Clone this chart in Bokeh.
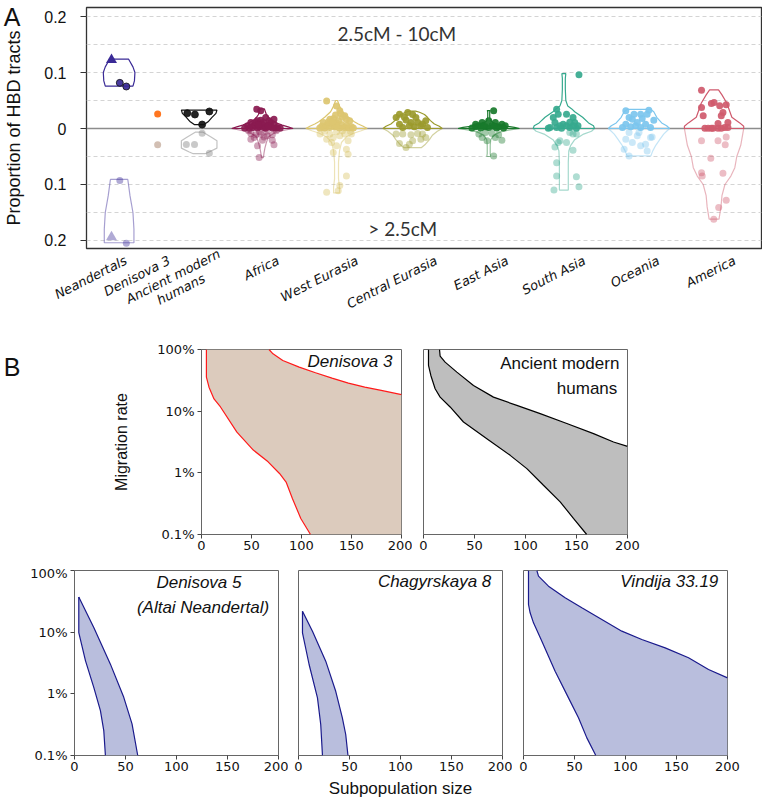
import math
from bokeh.plotting import figure
from bokeh.models import Range1d, FixedTicker, Label, CustomJSTickFormatter, Span, LinearAxis
from bokeh.layouts import column, row
from bokeh.embed import file_html
from bokeh.resources import INLINE

# ---------------- Panel A data ----------------
groups = ["Neandertals", "Denisova 3", "Ancient modern humans", "Africa", "West Eurasia",
          "Central Eurasia", "East Asia", "South Asia", "Oceania", "America"]
tick_text = ["Neandertals", "Denisova 3", "Ancient modern\nhumans\u00a0\u00a0\u00a0\u00a0\u00a0\u00a0", "Africa",
             "West Eurasia", "Central Eurasia", "East Asia", "South Asia", "Oceania", "America"]
group_x = [33, 72, 114, 178, 253, 330, 407, 483, 559, 635]
label_x = [40, 84, 138, 194, 274, 354, 426, 504, 579, 656]
color_long = ["#3a2a96", "#ff6a0d", "#111111", "#8a1a50", "#dcc670", "#9b9a2c",
              "#18792b", "#36a98e", "#7cc6ee", "#cf5a6d"]
color_short = ["#3a2a96", "#8f5f40", "#777777", "#8a1a50", "#d8c060", "#9b9a2c",
               "#18792b", "#36a98e", "#7cc6ee", "#cf5a6d"]

# (jitter, proportion of HBD tracts); long = 2.5cM-10cM (upward), short = >2.5cM (downward)
nea_tri_long = [(-7.7, 0.1226)]
nea_tri_short = [(-7.7, 0.194)]
long_pts = {
    "Neandertals": [(0.7, 0.0815), (7.3, 0.075)],
    "Denisova 3": [(0, 0.026)],
    "Ancient modern humans": [(-12, 0.0274), (-4.3, 0.025), (3, 0.0071), (10.3, 0.0304)],
    "Africa": [(-5.7, .0345), (-1.7, .0315), (11.7, .0167), (3.3, .0196), (-5, .0137), (-11.7, .0107),
               (8.3, .0107), (0, .0077), (-8.3, .0057), (-15, .0048), (5, .0048), (11.7, .0077),
               (-3.3, .003), (1.7, .0018), (-10, .0018), (8.3, .003), (15, .0018), (-6.7, .0107),
               (6.7, .0137), (-1.7, .0149), (3.3, .0003), (-13.3, .0003), (13.3, .0003), (-5, .001),
               (10, .001), (-18, .001), (18, .001), (1, .011), (-4, .007), (6, .004)],
    "West Eurasia": [(-10, .049), (0, .040), (3.3, .0315), (8.3, .0226), (-6.7, .0167), (-13.3, .0107),
                     (13.3, .0137), (-15, .004), (-10, .006), (-5, .008), (0, .010), (5, .007), (10, .005),
                     (15, .003), (-12, .001), (-7, .002), (-2, .003), (3, .001), (8, .002), (12, .001),
                     (17, .001), (-17, .001), (2, .014), (-3, .018), (6, .020), (-8, .012), (10, .016),
                     (-1, .024), (4, .027), (0, .005), (-4, .012)],
    "Central Eurasia": [(-13.3, .0256), (-5, .0286), (3.3, .0196), (13.3, .0137), (-1.7, .0107),
                        (-13.3, .0077), (8.3, .0048), (-10, .0018), (15, .0018), (1.7, .003), (-6.7, .015),
                        (-16.7, .0196), (5, .011), (10, .008), (-3.3, .005), (-8.3, .020), (0, .025)],
    "East Asia": [(5, .0315), (-13.3, .0077), (-6.7, .0107), (0, .0137), (6.7, .0107), (13.3, .0077),
                  (-10, .0048), (-3.3, .003), (3.3, .0048), (10, .003), (16.7, .0048), (-13.3, .003),
                  (-17, .001), (-8, .001), (0, .002), (8, .001), (15, .001), (-5, .006), (5, .004)],
    "South Asia": [(15.3, .0958), (-7.3, .0345), (-5.7, .0256), (2.7, .0256), (9.3, .0196), (-10.7, .0196),
                   (-9, .0107), (-0.7, .0077), (11, .0107), (14.3, .0048), (-15.7, .0005), (-14, .002),
                   (-7.3, .002), (-2.3, .0005), (6, .002), (12.7, .0005), (9.3, .005), (2.7, .005),
                   (-4, .005), (6, .011)],
    "Oceania": [(-13.3, .0315), (10, .0327), (1.7, .0256), (-6.7, .0167), (15, .0149), (-1.7, .0107),
                (-13.3, .0077), (6.7, .0077), (11.7, .0018), (-16.7, .0018), (-8.3, .003), (-3.3, .0048),
                (-10, .0196), (3.3, .018), (8.3, .0256), (-5, .0256), (1.7, .002)],
    "America": [(-12.7, .0685), (-2.7, .0446), (0, .0464), (5.7, .0405), (12.3, .0423), (9, .0286),
                (-12.7, .0375), (-11, .0226), (7.3, .0226), (4, .0089), (14, .0107), (-9.3, .0005),
                (-2.7, .0005), (4, .0005), (10.7, .002), (-1, .0005), (7.3, .0005), (14, .002), (-6, .0005)],
}
short_pts = {
    "Neandertals": [(0.7, 0.093), (7.3, 0.205)],
    "Denisova 3": [(0, 0.029)],
    "Ancient modern humans": [(-13, 0.0286), (-4.7, 0.0286), (3, 0.0083), (10.3, 0.044)],
    "Africa": [(-11.7, .0089), (-6.7, .0113), (-1.7, .0101), (5, .0131), (10, .0113), (-11.7, .019),
               (0, .0208), (10, .0208), (-5, .031), (11.7, .029), (-3.3, .052), (-8.3, .016), (1.7, .015),
               (-14, .004), (4, .005), (14, .004), (-3, .006)],
    "West Eurasia": [(-10, .019), (-3.3, .016), (3.3, .013), (11.7, .022), (8.3, .010), (-6.7, .010),
                     (0, .031), (10, .037), (-3.3, .043), (11.7, .046), (10, .085), (3.3, .102),
                     (-10, .114), (1.7, .111), (-16.7, .010), (15, .010), (-12, .005), (0, .006),
                     (6, .004), (14, .005), (-5, .025)],
    "Central Eurasia": [(-13.3, .027), (-6.7, .034), (0, .022), (8.3, .019), (-10, .010), (-1.7, .011),
                        (5, .009), (10, .010), (-16.7, .010), (13.3, .016), (-3.3, .028)],
    "East Asia": [(-10, .010), (-3.3, .007), (3.3, .009), (10, .011), (-6.7, .016), (6.7, .016),
                  (13.3, .021), (-1.7, .022), (5, .049)],
    "South Asia": [(-5.7, .025), (-9, .033), (2.7, .025), (9.3, .039), (-7.3, .061), (-7.3, .085),
                   (12.7, .086), (15.3, .104), (-10, .110), (6, .007), (9.3, .010), (12.7, .010), (-4, .022)],
    "Oceania": [(-13.3, .019), (-6.7, .025), (1.7, .031), (8.3, .040), (-10, .049), (6.7, .028),
                (13.3, .015), (-1.7, .013), (-15, .037), (0, .007), (11.7, .016), (-10, .007)],
    "America": [(-12.7, .022), (4, .022), (12.3, .015), (11.3, .029), (-3.3, .053), (-12.7, .079),
                (-12, .085), (9, .080), (12.3, .128), (4.7, .141), (-0.3, .162)],
}
# violin outlines: (proportion, half-width)
viol_long = {
    "Neandertals": [(0.0756, 14), (0.085, 15.5), (0.1, 16), (0.11, 14), (0.124, 9.5)],
    "Ancient modern humans": [(0.007, 5), (0.012, 9), (0.02, 13), (0.027, 17), (0.033, 18)],
    "Africa": [(0, 31), (0.003, 26), (0.006, 20), (0.01, 14), (0.015, 9), (0.02, 6), (0.025, 4), (0.03, 3), (0.035, 2)],
    "West Eurasia": [(0, 31), (0.004, 27), (0.008, 22), (0.012, 18), (0.02, 12), (0.03, 6), (0.04, 3), (0.05, 1)],
    "Central Eurasia": [(0, 30), (0.004, 27), (0.008, 22), (0.014, 18), (0.02, 15), (0.025, 12), (0.029, 7), (0.031, 3)],
    "East Asia": [(0, 31), (0.002, 26), (0.004, 18), (0.007, 10), (0.01, 5), (0.014, 2), (0.02, 1), (0.03, 1), (0.032, 1.5)],
    "South Asia": [(0, 31), (0.005, 30), (0.01, 25), (0.02, 19), (0.03, 11), (0.035, 8), (0.04, 4), (0.05, 2),
                   (0.07, 1.5), (0.09, 1.5), (0.098, 2)],
    "Oceania": [(0, 31), (0.005, 28), (0.01, 23), (0.02, 18), (0.03, 15), (0.034, 12)],
    "America": [(0, 30), (0.004, 30), (0.01, 26), (0.02, 18), (0.03, 16), (0.045, 13), (0.06, 8), (0.069, 4.5)],
}
viol_short = {
    "Neandertals": [(0.091, 8.8), (0.12, 11), (0.15, 14), (0.18, 15), (0.204, 15)],
    "Ancient modern humans": [(0.0065, 4), (0.015, 12), (0.022, 18), (0.035, 18), (0.042, 10), (0.045, 6)],
    "Africa": [(0, 31), (0.004, 20), (0.008, 12), (0.015, 6), (0.025, 4), (0.035, 2.5), (0.045, 1.5), (0.052, 1)],
    "West Eurasia": [(0, 31), (0.004, 25), (0.008, 18), (0.015, 10), (0.025, 5), (0.04, 3), (0.06, 2), (0.09, 2),
                     (0.105, 3), (0.115, 3)],
    "Central Eurasia": [(0, 30), (0.005, 25), (0.012, 20), (0.02, 17), (0.028, 13), (0.034, 9)],
    "East Asia": [(0, 31), (0.003, 20), (0.006, 12), (0.01, 7), (0.015, 4), (0.02, 2), (0.03, 1.5), (0.045, 1.5), (0.05, 2)],
    "South Asia": [(0, 31), (0.005, 28), (0.01, 20), (0.02, 11), (0.03, 7), (0.04, 5), (0.06, 4.5), (0.09, 4.5), (0.11, 4.5)],
    "Oceania": [(0, 31), (0.005, 28), (0.01, 25), (0.02, 21), (0.03, 17), (0.04, 14), (0.049, 12)],
    "America": [(0, 30), (0.01, 29), (0.03, 27), (0.05, 23), (0.07, 21), (0.085, 17), (0.1, 11), (0.12, 8),
                (0.14, 7), (0.162, 5)],
}
a_ticks = [-0.2, -0.1, 0, 0.1, 0.2]
a_grid = [-0.2, -0.15, -0.1, -0.05, 0.05, 0.1, 0.15, 0.2]

# ---------------- Panel B data (subpopulation size, migration rate) ----------------
size_ticks = [0, 50, 100, 150, 200]
mig_ticks = [0.001, 0.01, 0.1, 1]
b_panels = {
    "Denisova 3": dict(
        left_n=[4.9, 4.9, 7.5, 12.5, 19, 35.4, 51.8, 66.6, 78, 84.6, 91, 99.3, 109],
        left_m=[1, 0.356, 0.245, 0.158, 0.117, 0.0457, 0.0234, 0.0151, 0.00977, 0.00708, 0.0038, 0.00182, 0.001],
        right_n=[67.5, 71.5, 81.3, 97.7, 114, 130.5, 146.9, 163.3, 179.7, 200],
        right_m=[1, 0.851, 0.664, 0.518, 0.419, 0.344, 0.285, 0.245, 0.217, 0.185],
        fill="#dccbbd", line="#ff1a1a"),
    "Ancient modern humans": dict(
        left_n=[4.9, 4.9, 7.2, 11.4, 16.3, 26.1, 39.2, 62.1, 85, 101.3, 117.6, 134, 147, 160],
        left_m=[1, 0.551, 0.379, 0.231, 0.169, 0.117, 0.0667, 0.0358, 0.0192, 0.0117, 0.0063, 0.00339, 0.00182, 0.001],
        right_n=[15.7, 16.3, 21.2, 32.7, 49, 68.6, 91.5, 114.4, 140.5, 166.7, 186.3, 200],
        right_m=[1, 0.78, 0.624, 0.43, 0.261, 0.169, 0.124, 0.0912, 0.0631, 0.0432, 0.0316, 0.0269],
        fill="#bebebe", line="#000000"),
    "Denisova 5": dict(
        left_n=[4.2, 4.2, 10.8, 18.9, 25.4, 28.7, 30.3],
        left_m=[0.371, 0.0984, 0.0343, 0.0127, 0.00533, 0.00254, 0.001],
        right_n=[4.2, 18.9, 35.2, 48.3, 56.4, 62],
        right_m=[0.371, 0.1186, 0.0303, 0.00877, 0.00325, 0.001],
        fill="#b9bedd", line="#1a1a8c"),
    "Chagyrskaya 8": dict(
        left_n=[3.9, 3.9, 10.4, 18.6, 21.8, 23.5],
        left_m=[0.219, 0.0977, 0.0299, 0.0086, 0.00318, 0.001],
        right_n=[3.9, 13.7, 26.7, 36.5, 43, 46.3, 48.5],
        right_m=[0.219, 0.1038, 0.0339, 0.011, 0.00408, 0.00219, 0.001],
        fill="#b9bedd", line="#1a1a8c"),
    "Vindija 33.19": dict(
        left_n=[4.9, 4.9, 6.5, 9.8, 18, 31, 44.1, 53.9, 62.1, 70.9],
        left_m=[1, 0.281, 0.206, 0.1416, 0.0714, 0.0233, 0.0086, 0.00408, 0.00193, 0.001],
        right_n=[13.1, 14.7, 24.5, 40.8, 57.2, 76.8, 96.4, 116, 138.9, 161.8, 181.4, 200],
        right_m=[1, 0.809, 0.557, 0.361, 0.248, 0.160, 0.1038, 0.076, 0.0557, 0.0384, 0.0248, 0.01816],
        fill="#b9bedd", line="#1a1a8c"),
}

SANS = "Liberation Sans"


def plain_axis(ax):
    ax.major_tick_in = 0
    ax.minor_tick_line_color = None
    ax.axis_line_color = None


# ================= Panel A =================
pA = figure(width=762, height=340, x_range=Range1d(0, 683), y_range=Range1d(-0.2143, 0.2161),
            output_backend="svg", toolbar_location=None,
            min_border_left=78, min_border_right=1, min_border_top=7, min_border_bottom=92)
pA.outline_line_color = "#333333"
pA.outline_line_width = 1.3
pA.xgrid.visible = False
pA.ygrid.ticker = FixedTicker(ticks=a_grid)
pA.ygrid.grid_line_dash = "4 3"
pA.ygrid.grid_line_color = "#d4d4d4"
pA.ygrid.grid_line_width = 1

ya = pA.yaxis[0]
plain_axis(ya)
ya.ticker = FixedTicker(ticks=a_ticks)
ya.formatter = CustomJSTickFormatter(code="return String(Math.abs(tick));")
ya.major_label_text_font = SANS
ya.major_label_text_font_size = "16px"
ya.major_label_text_color = "#111111"
ya.major_tick_out = 6
ya.major_tick_line_color = "#333333"
ya.major_label_standoff = 14

# outer left axis: carries the panel letter and the axis title
axA = LinearAxis(ticker=FixedTicker(ticks=[0.2]), formatter=CustomJSTickFormatter(code="return 'A';"))
plain_axis(axA)
axA.major_tick_out = 0
axA.major_tick_line_color = None
axA.major_label_text_font = SANS
axA.major_label_text_font_size = "25px"
axA.major_label_text_color = "#111111"
axA.major_label_standoff = 21
axA.axis_label = "Proportion of HBD tracts"
axA.axis_label_text_font = SANS
axA.axis_label_text_font_size = "18px"
axA.axis_label_text_font_style = "normal"
axA.axis_label_text_color = "#111111"
axA.axis_label_standoff = -23
pA.add_layout(axA, "left")

xa = pA.xaxis[0]
plain_axis(xa)
xa.ticker = FixedTicker(ticks=label_x)
xa.formatter = CustomJSTickFormatter(args=dict(tpos=label_x, names=tick_text),
                                     code="const i = tpos.indexOf(tick); return i < 0 ? '' : names[i];")
xa.major_tick_out = 0
xa.major_tick_line_color = None
xa.major_label_orientation = math.radians(27)
xa.major_label_standoff = 11
xa.major_label_text_font = "DejaVu Sans"
xa.major_label_text_font_style = "italic"
xa.major_label_text_font_size = "13px"
xa.major_label_text_line_height = 1.0
xa.major_label_text_color = "#111111"

pA.add_layout(Span(location=0, dimension="width", line_color="#8c8c8c", line_width=1.5, level="underlay"))

for i, g in enumerate(groups):
    c = group_x[i]
    if g in viol_long:
        prof = viol_long[g]
        xs = [c + w for v, w in prof] + [c - w for v, w in reversed(prof)]
        ys = [v for v, w in prof] + [v for v, w in reversed(prof)]
        pA.patch(xs, ys, fill_color=None, line_color=color_long[i], line_width=1.2)
    if g in viol_short:
        prof = viol_short[g]
        xs = [c + w for v, w in prof] + [c - w for v, w in reversed(prof)]
        ys = [-v for v, w in prof] + [-v for v, w in reversed(prof)]
        pA.patch(xs, ys, fill_color=None, line_color=color_short[i], line_alpha=0.45, line_width=1.2)

for i, g in enumerate(groups):
    c = group_x[i]
    pts = short_pts[g]
    pA.scatter([c + o for o, v in pts], [-v for o, v in pts], size=7, marker="circle",
               fill_color=color_short[i], fill_alpha=0.4, line_color=None)
    pts = long_pts[g]
    outline = "#111111" if g in ("Neandertals", "Ancient modern humans") else None
    pA.scatter([c + o for o, v in pts], [v for o, v in pts], size=7, marker="circle",
               fill_color=color_long[i], fill_alpha=0.92, line_color=outline, line_width=0.8)

pA.scatter([group_x[0] + o for o, v in nea_tri_long], [v for o, v in nea_tri_long], marker="triangle",
           size=11, fill_color=color_long[0], line_color=None)
pA.scatter([group_x[0] + o for o, v in nea_tri_short], [-v for o, v in nea_tri_short], marker="triangle",
           size=11, fill_color=color_short[0], fill_alpha=0.4, line_color=None)

pA.add_layout(Label(x=314, y=0.1696, text="2.5cM - 10cM", text_font="Lato", text_font_size="19px",
                    text_color="#333333", text_align="center", text_baseline="middle"))
pA.add_layout(Label(x=320, y=-0.1786, text="> 2.5cM", text_font="Lato", text_font_size="19px",
                    text_color="#333333", text_align="center", text_baseline="middle"))


# ================= Panel B =================
def b_panel(name, width, height, bl, br, bt, bb, show_y):
    p = figure(width=width, height=height, x_range=Range1d(0, 200), y_range=Range1d(0.001, 1),
               y_axis_type="log", y_axis_location=("left" if show_y else None),
               output_backend="svg", toolbar_location=None,
               min_border_left=bl, min_border_right=br, min_border_top=bt, min_border_bottom=bb)
    p.grid.visible = False
    p.outline_line_color = "#666666"
    p.outline_line_width = 1
    xb = p.xaxis[0]
    plain_axis(xb)
    xb.ticker = FixedTicker(ticks=size_ticks)
    xb.major_label_text_font = "DejaVu Sans"
    xb.major_label_text_font_size = "13px"
    xb.major_label_text_color = "#111111"
    xb.major_tick_out = 4
    xb.major_tick_line_color = "#444444"
    xb.major_label_standoff = 2
    if show_y:
        yy = p.yaxis[0]
        plain_axis(yy)
        yy.ticker = FixedTicker(ticks=mig_ticks)
        yy.formatter = CustomJSTickFormatter(code="return (Math.round(tick*1000)/10) + '%';")
        yy.major_label_text_font = "DejaVu Sans"
        yy.major_label_text_font_size = "13px"
        yy.major_label_text_color = "#111111"
        yy.major_tick_out = 4
        yy.major_tick_line_color = "#444444"
        yy.major_label_standoff = 3
    d = b_panels[name]
    px = list(d["left_n"])
    py = list(d["left_m"])
    if d["right_n"][-1] >= 200:
        px.append(200)
        py.append(0.001)
    px += d["right_n"][::-1]
    py += d["right_m"][::-1]
    p.patch(px, py, fill_color=d["fill"], line_color=None)
    p.line(d["left_n"], d["left_m"], line_color=d["line"], line_width=1.2)
    p.line(d["right_n"], d["right_m"], line_color=d["line"], line_width=1.2)
    return p


title_kw = dict(text_font=SANS, text_font_size="17px", text_color="#111111", text_baseline="middle")

pB1 = b_panel("Denisova 3", 412, 225, 197, 11, 9, 31, True)
yb = pB1.yaxis[0]
yb.axis_label = "Migration rate"
yb.axis_label_text_font = SANS
yb.axis_label_text_font_size = "16px"
yb.axis_label_text_font_style = "normal"
yb.axis_label_text_color = "#111111"
yb.axis_label_standoff = 24
# outer left axis carrying the panel letter (two-line label lifts the letter above the tick)
axB = LinearAxis(ticker=FixedTicker(ticks=[1]), formatter=CustomJSTickFormatter(code="return 'B\\n\\u00a0';"))
plain_axis(axB)
axB.major_tick_out = 0
axB.major_tick_line_color = None
axB.major_label_text_font = SANS
axB.major_label_text_font_size = "25px"
axB.major_label_text_line_height = 0.5
axB.major_label_text_color = "#111111"
axB.major_label_standoff = 90
pB1.add_layout(axB, "left")
pB1.add_layout(Label(x=191, y=0.638, text="Denisova 3", text_align="right", text_font_style="italic", **title_kw))

pB2 = b_panel("Ancient modern humans", 228, 225, 11, 13, 9, 31, False)
pB2.add_layout(Label(x=192, y=0.593, text="Ancient modern", text_align="right", **title_kw))
pB2.add_layout(Label(x=190, y=0.233, text="humans", text_align="right", **title_kw))

pB3 = b_panel("Denisova 5", 288, 236, 74, 10, 5, 46, True)
pB3.add_layout(Label(x=122, y=0.638, text="Denisova 5", text_align="center", text_font_style="italic", **title_kw))
pB3.add_layout(Label(x=126, y=0.251, text="(Altai Neandertal)", text_align="center", text_font_style="italic",
                     **title_kw))

pB4 = b_panel("Chagyrskaya 8", 224, 236, 10, 10, 5, 46, False)
xc = pB4.xaxis[0]
xc.axis_label = "Subpopulation size"
xc.axis_label_text_font = SANS
xc.axis_label_text_font_size = "17px"
xc.axis_label_text_font_style = "normal"
xc.axis_label_text_color = "#111111"
xc.axis_label_standoff = 5
pB4.add_layout(Label(x=189, y=0.663, text="Chagyrskaya 8", text_align="right", text_font_style="italic",
                     **title_kw))

pB5 = b_panel("Vindija 33.19", 250, 236, 11, 35, 5, 46, False)
pB5.add_layout(Label(x=191, y=0.663, text="Vindija 33.19", text_align="right", text_font_style="italic",
                     **title_kw))

layout = column(pA, row(pB1, pB2), row(pB3, pB4, pB5))
open("out.html", "w").write(file_html(layout, INLINE))
